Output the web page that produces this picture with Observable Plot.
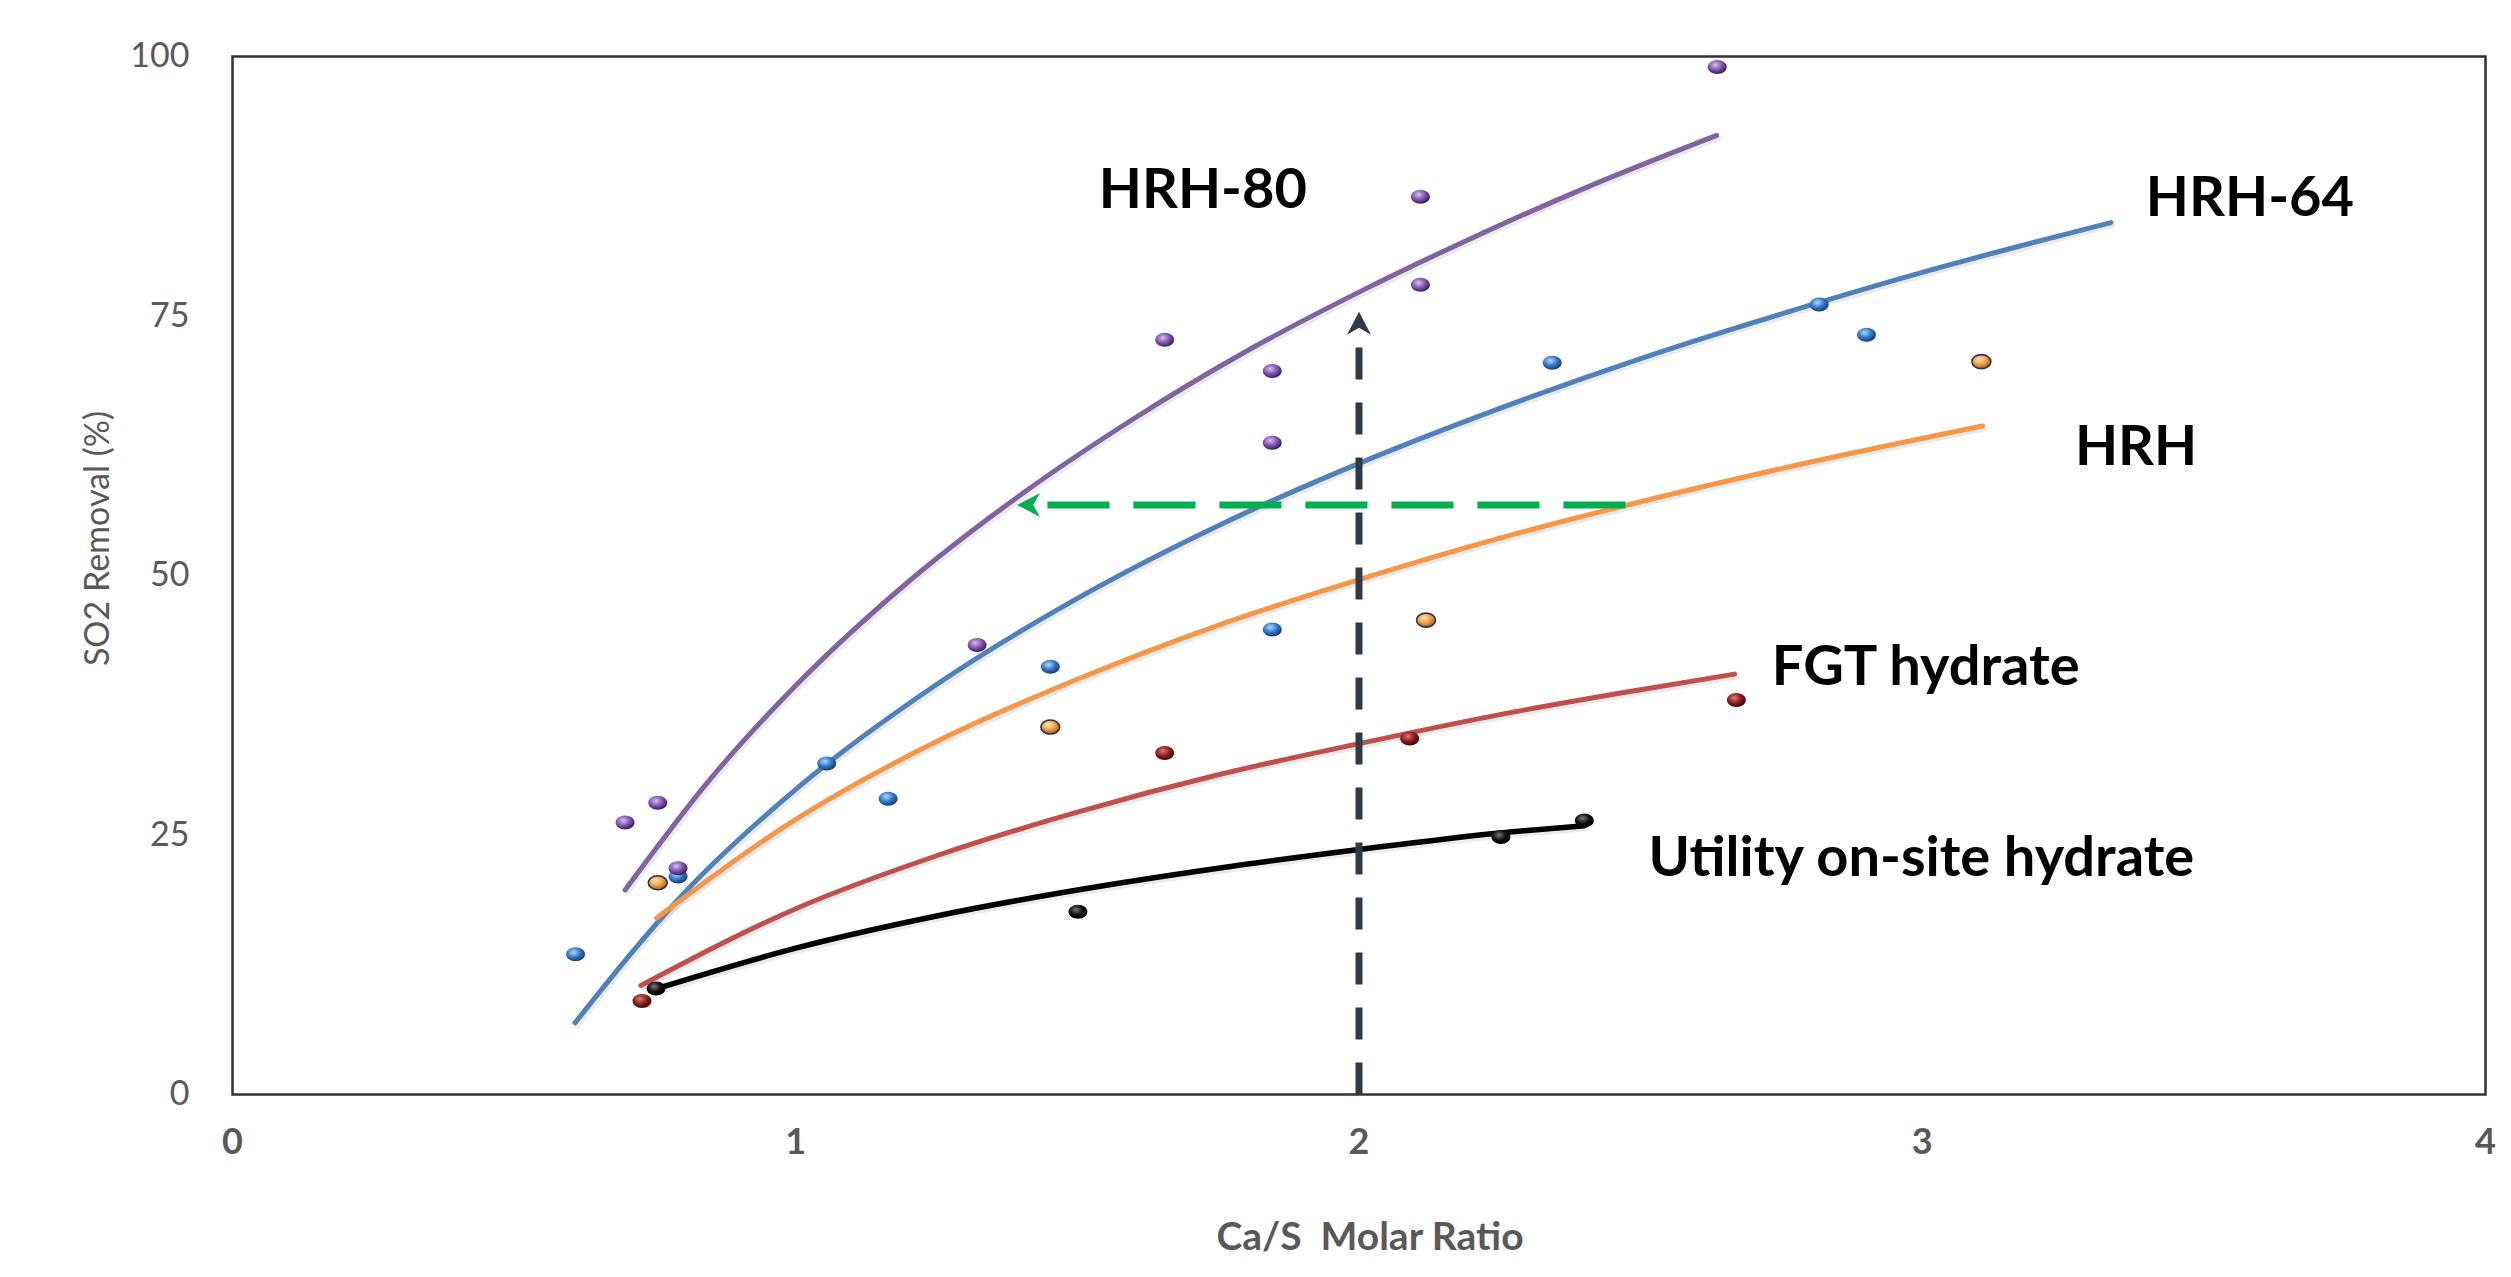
<!DOCTYPE html>
<html><head><meta charset="utf-8">
<script src="https://cdn.jsdelivr.net/npm/d3@7"></script>
<script src="https://cdn.jsdelivr.net/npm/@observablehq/plot@0.6"></script>
<style>
html,body{margin:0;padding:0;background:#fff;}
#wrap{position:relative;width:2511px;height:1277px;}
#edge{position:absolute;left:26px;top:13px;bottom:0;width:2px;background:#dcdcdc;}
#chart{position:absolute;left:0;top:0;}
</style></head>
<body><div id="wrap"><div id="edge"></div><div id="chart"></div></div>
<script>
// ---- axes ----
const xTicks = [0, 1, 2, 3, 4];
const yTicks = [0, 25, 50, 75, 100];
const xTitle = "Ca/S\u00a0 Molar Ratio";
const yTitle = "SO2 Removal (%)";

// ---- series names (curve labels) ----
const seriesNames = ["HRH-80", "HRH-64", "HRH", "FGT hydrate", "Utility on-site hydrate"];
const labelX = [1.538, 3.397, 3.271, 2.733, 2.514];
const labelY = [87.1, 86.4, 62.4, 41.2, 22.8];

// ---- observed points ----
const hrh80X = [0.697, 0.755, 0.791, 1.322, 1.655, 1.846, 1.846, 2.109, 2.109, 2.636];
const hrh80Y = [26.2, 28.1, 21.8, 43.3, 72.7, 69.7, 62.8, 86.5, 78.0, 99.0];
const hrh64X = [0.609, 0.791, 1.055, 1.164, 1.452, 1.846, 2.343, 2.817, 2.901];
const hrh64Y = [13.5, 21.0, 31.9, 28.5, 41.2, 44.8, 70.5, 76.1, 73.2];
const hrhX = [0.755, 1.452, 2.119, 3.105];
const hrhY = [20.4, 35.4, 45.7, 70.6];
const fgtX = [0.727, 1.655, 2.09, 2.67];
const fgtY = [9.0, 32.9, 34.3, 38.0];
const utilX = [0.752, 1.501, 2.252, 2.40];
const utilY = [10.2, 17.6, 24.8, 26.4];

// ---- trend lines ----
const hrh80FitX = [0.697, 0.85, 1.0, 1.2, 1.4, 1.6, 1.8, 2.0, 2.2, 2.4, 2.635];
const hrh80FitY = [19.7, 30.5, 39.4, 49.4, 57.8, 65.1, 71.6, 77.3, 82.5, 87.3, 92.4];
const hrh64FitX = [0.608, 0.8, 1.0, 1.25, 1.5, 1.75, 2.0, 2.25, 2.5, 2.75, 3.0, 3.335];
const hrh64FitY = [6.9, 19.3, 29.4, 39.5, 47.8, 54.8, 60.8, 66.1, 70.9, 75.2, 79.2, 84.0];
const hrhFitX = [0.753, 1.0, 1.25, 1.5, 1.75, 2.0, 2.25, 2.5, 2.75, 3.107];
const hrhFitY = [17.0, 26.5, 34.0, 40.0, 45.2, 49.6, 53.6, 57.1, 60.3, 64.4];
const fgtFitX = [0.725, 1.0, 1.25, 1.5, 1.75, 2.0, 2.25, 2.5, 2.667];
const fgtFitY = [10.5, 17.9, 23.0, 27.2, 30.8, 33.8, 36.6, 39.0, 40.5];
const utilFitX = [0.753, 1.0, 1.25, 1.5, 1.75, 2.0, 2.25, 2.4];
const utilFitY = [10.2, 14.1, 17.2, 19.7, 21.8, 23.6, 25.2, 25.9];

// ---- annotation arrows ----
const guideY = 56.8, guideFromX = 2.473, guideToX = 1.393;   // green horizontal arrow
const markX = 2.0, markTopY = 75.4;                           // dark vertical arrow

const pts = (xs, ys) => xs.map((x, i) => ({x, y: ys[i]}));

const ellipse = {
  draw(ctx, size) {
    const r = Math.sqrt(size / Math.PI), rx = r * 1.35, ry = r, k = 0.5523;
    ctx.moveTo(rx, 0);
    ctx.bezierCurveTo(rx, ry * k, rx * k, ry, 0, ry);
    ctx.bezierCurveTo(-rx * k, ry, -rx, ry * k, -rx, 0);
    ctx.bezierCurveTo(-rx, -ry * k, -rx * k, -ry, 0, -ry);
    ctx.bezierCurveTo(rx * k, -ry, rx, -ry * k, rx, 0);
    ctx.closePath();
  }
};
// stealth arrowhead with its tip at the anchor, pointing up
const stealth = {
  draw(ctx, size) {
    const r = Math.sqrt(size / Math.PI);
    ctx.moveTo(0, 0);
    ctx.lineTo(-1.2 * r, 2.3 * r);
    ctx.lineTo(0, 1.6 * r);
    ctx.lineTo(1.2 * r, 2.3 * r);
    ctx.closePath();
  }
};

const grads = [
  ["gPurple", "#d6bdf2", "#8155b0", "#3b1d5e"],
  ["gBlue", "#b5d8fb", "#2f78cc", "#173d73"],
  ["gOrange", "#ffe6b5", "#f2a046", "#a85e17"],
  ["gRed", "#d97a7a", "#8e1d1d", "#420606"],
  ["gBlack", "#777", "#111", "#000"]
];
function defsMark() {
  const ns = "http://www.w3.org/2000/svg";
  const defs = document.createElementNS(ns, "defs");
  for (const [id, c0, c1, c2] of grads) {
    const g = document.createElementNS(ns, "radialGradient");
    g.setAttribute("id", id);
    g.setAttribute("cx", "40%"); g.setAttribute("cy", "35%"); g.setAttribute("r", "65%");
    [["0%", c0], ["55%", c1], ["100%", c2]].forEach(([o, c]) => {
      const s = document.createElementNS(ns, "stop");
      s.setAttribute("offset", o); s.setAttribute("stop-color", c);
      g.appendChild(s);
    });
    defs.appendChild(g);
  }
  return defs;
}

const fits = [
  [pts(hrh80FitX, hrh80FitY), "#8064a2", 5],
  [pts(hrh64FitX, hrh64FitY), "#4f81bd", 5],
  [pts(hrhFitX, hrhFitY), "#f79646", 5],
  [pts(fgtFitX, fgtFitY), "#c0504d", 5],
  [pts(utilFitX, utilFitY), "#000000", 5.5]
];

const dotSets = [
  [pts(hrh64X, hrh64Y), "url(#gBlue)", "none"],
  [pts(hrh80X, hrh80Y), "url(#gPurple)", "none"],
  [pts(hrhX, hrhY), "url(#gOrange)", "#2b3550"],
  [pts(fgtX, fgtY), "url(#gRed)", "none"],
  [pts(utilX, utilY), "url(#gBlack)", "none"]
];

const labels = seriesNames.map((t, i) => ({t, x: labelX[i], y: labelY[i]}));

const chart = Plot.plot({
  width: 2511, height: 1277,
  marginLeft: 232, marginRight: 26, marginTop: 56, marginBottom: 183,
  x: {domain: [0, 4]},
  y: {domain: [0, 100]},
  style: {fontFamily: "Lato, 'Open Sans', sans-serif", background: "white", overflow: "visible"},
  marks: [
    defsMark,
    Plot.axisX(xTicks, {tickSize: 0, tickPadding: 34, fontSize: 36, fontWeight: "bold", color: "#595959", tickFormat: d => d, label: null}),
    Plot.axisY(yTicks, {tickSize: 0, tickPadding: 43, fontSize: 34, color: "#595959", tickFormat: d => d, label: null}),
    Plot.text([xTitle], {frameAnchor: "bottom", textAnchor: "middle", lineAnchor: "middle", dx: 11, dy: 143, fontSize: 39, fontWeight: "bold", fill: "#595959", letterSpacing: "1.5px"}),
    Plot.text([yTitle], {frameAnchor: "left", textAnchor: "middle", lineAnchor: "middle", rotate: -90, dx: -134, dy: -37, fontSize: 34, fill: "#595959"}),
    // line shadows
    ...fits.map(([d, c, w]) => Plot.line(d, {x: "x", y: "y", curve: "monotone-x", stroke: "#000", strokeOpacity: 0.08, strokeWidth: w, dx: 2, dy: 3})),
    ...fits.map(([d, c, w]) => Plot.line(d, {x: "x", y: "y", curve: "monotone-x", stroke: c, strokeWidth: w})),
    // dark vertical dashed arrow
    Plot.line([{x: markX, y: 0}, {x: markX, y: markTopY - 1.5}], {x: "x", y: "y", stroke: "#2f3a45", strokeWidth: 7, strokeDasharray: "32,23", strokeLinecap: "butt"}),
    Plot.dot([{x: markX, y: markTopY}], {x: "x", y: "y", symbol: stealth, r: 10, fill: "#2f3a45", stroke: "none"}),
    // green horizontal dashed arrow
    Plot.line([{x: guideFromX, y: guideY}, {x: guideToX + 0.03, y: guideY}], {x: "x", y: "y", stroke: "#00b050", strokeWidth: 7, strokeDasharray: "62,24", strokeLinecap: "butt"}),
    Plot.dot([{x: guideToX, y: guideY}], {x: "x", y: "y", symbol: stealth, r: 10, rotate: -90, fill: "#00b050", stroke: "none"}),
    // observed points
    ...dotSets.map(([d, f, s]) => Plot.dot(d, {x: "x", y: "y", symbol: ellipse, r: 7, fill: f, stroke: s, strokeWidth: 1.6})),
    // curve labels
    Plot.text(labels, {x: "x", y: "y", text: "t", textAnchor: "start", lineAnchor: "middle", fontSize: 56, fontWeight: "bold", fill: "#000"}),
    Plot.frame({stroke: "#333", strokeWidth: 2.5})
  ]
});
document.getElementById("chart").appendChild(chart);
</script>
</body></html>
